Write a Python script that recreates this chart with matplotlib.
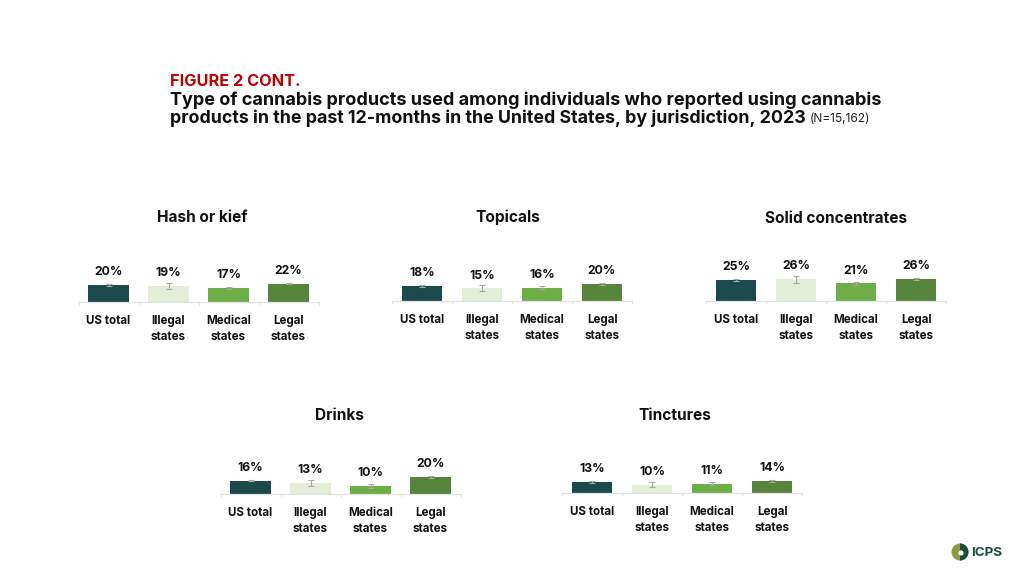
import matplotlib
matplotlib.use("Agg")
import matplotlib.pyplot as plt
from matplotlib.patches import Wedge, Circle

plt.rcParams['font.family'] = ['Inter', 'DejaVu Sans']

W, H = 1024, 576
categories = ["US total", "Illegal\nstates", "Medical\nstates", "Legal\nstates"]
bar_colors = ["#1B4A4C", "#E3EDD8", "#6DAE47", "#55843A"]

hash_vals = [20, 19, 17, 22]
topical_vals = [18, 15, 16, 20]
solid_vals = [25, 26, 21, 26]
drink_vals = [16, 13, 10, 20]
tincture_vals = [13, 10, 11, 14]

hash_ci = [0.9, 3.6, 1.4, 0.7]
topical_ci = [0.8, 3.6, 1.8, 0.9]
solid_ci = [0.8, 4.0, 2.0, 0.8]
drink_ci = [0.9, 3.6, 2.4, 0.9]
tincture_ci = [0.8, 3.2, 2.0, 1.0]

PX_PER_UNIT = 0.84
YMAX = 40
AX_W = 240

fig = plt.figure(figsize=(W / 100, H / 100), dpi=100, facecolor="white")


def px(x, y):
    return x / W, 1 - y / H


def panel(title, vals, ci, left, base, title_xy):
    h = YMAX * PX_PER_UNIT
    ax = fig.add_axes([left / W, 1 - base / H, AX_W / W, h / H])
    ax.patch.set_alpha(0)
    xs = range(len(vals))
    ax.bar(xs, vals, width=0.667, color=bar_colors)
    ax.errorbar(xs, vals, yerr=ci, fmt="none", ecolor="#A9A9A0", elinewidth=0.8,
                capsize=2.2, capthick=0.8)
    for x, v in zip(xs, vals):
        ax.annotate(f"{v}%", (x, v), xytext=(0, 9.2), textcoords="offset points",
                    ha="center", va="center", fontsize=8.8, fontweight="bold", color="#111111")
    ax.set_xlim(-0.5, 3.5)
    ax.set_ylim(0, YMAX)
    for s in ("top", "left", "right"):
        ax.spines[s].set_visible(False)
    ax.spines["bottom"].set_color("#E2E2E2")
    ax.spines["bottom"].set_linewidth(0.9)
    ax.set_yticks([])
    ax.set_xticks([-0.5, 0.5, 1.5, 2.5, 3.5])
    ax.set_xticklabels([])
    ax.tick_params(axis="x", which="major", length=2.2, width=0.8, color="#E2E2E2")
    ax.set_xticks(list(xs), minor=True)
    ax.set_xticklabels(categories, minor=True, fontsize=8.3, fontweight="bold",
                       color="#111111", linespacing=1.45)
    ax.tick_params(axis="x", which="minor", length=0, pad=9.2)
    fig.text(*px(title_xy[0], title_xy[1] + 1), title, ha="center", va="center", fontsize=11.1,
             fontweight="bold", color="#111111")


panel("Hash or kief", hash_vals, hash_ci, 78.5, 302, (202, 216))
panel("Topicals", topical_vals, topical_ci, 392, 301, (508, 216))
panel("Solid concentrates", solid_vals, solid_ci, 706, 301, (836, 218))
panel("Drinks", drink_vals, drink_ci, 220.5, 494, (339, 414))
panel("Tinctures", tincture_vals, tincture_ci, 562, 493, (675, 414))

# Header
fig.text(*px(170, 81), "FIGURE 2 CONT.", ha="left", va="center", fontsize=11.7,
         fontweight="bold", color="#C00000")
fig.text(*px(170, 100), "Type of cannabis products used among individuals who reported using cannabis",
         ha="left", va="center", fontsize=13.0, fontweight="bold", color="#111111")
fig.text(*px(170, 118.5), "products in the past 12-months in the United States, by jurisdiction, 2023",
         ha="left", va="center", fontsize=12.8, fontweight="bold", color="#111111")
fig.text(*px(810, 119), "(N=15,162)", ha="left", va="center", fontsize=8.6,
         color="#222222")

# ICPS logo
logo = fig.add_axes([0, 0, 1, 1], zorder=5)
logo.set_xlim(0, W)
logo.set_ylim(H, 0)
logo.axis("off")
logo.set_aspect("equal")
logo.add_patch(Circle((960, 552), 8.5, color="#8A9A3C", lw=0))
logo.add_patch(Wedge((960, 552), 8.5, -90, 90, color="#1B4A40", lw=0))
logo.add_patch(Circle((961, 553), 2.6, color="white", lw=0))
logo.text(971, 552.5, "ICPS", ha="left", va="center", fontsize=9.6, fontweight="bold",
          color="#1B4A40")

fig.savefig("out.png", dpi=100, facecolor="white")
